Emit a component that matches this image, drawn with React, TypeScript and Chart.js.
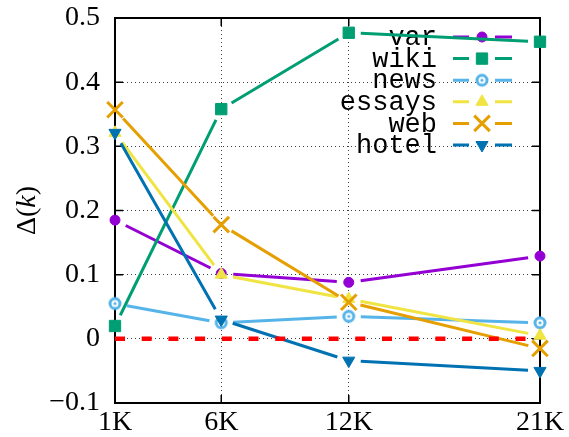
import React, { useEffect, useRef } from 'react';
import { Chart, registerables } from 'chart.js';

Chart.register(...registerables);

// ---- data ----
const xValues = [1, 6, 12, 21];
const xTickLabels = ['1K', '6K', '12K', '21K'];
const yTicks = [-0.1, 0, 0.1, 0.2, 0.3, 0.4, 0.5];
const yTickLabels = ['\u22120.1', '0', '0.1', '0.2', '0.3', '0.4', '0.5'];

const seriesNames = ['var', 'wiki', 'news', 'essays', 'web', 'hotel'];
const varValues = [0.185, 0.102, 0.088, 0.129];
const wikiValues = [0.02, 0.358, 0.477, 0.463];
const newsValues = [0.055, 0.025, 0.035, 0.025];
const essaysValues = [0.321, 0.1, 0.062, 0.005];
const webValues = [0.357, 0.178, 0.057, -0.015];
const hotelValues = [0.321, 0.03, -0.034, -0.05];
const baselineValues = [0, 0, 0, 0];

// ---- styles ----
const seriesColors = ['#9400d3', '#009e73', '#56b4e9', '#f0e442', '#e69f00', '#0072b2'];
const GAP = 12;
const SERIF = '"Liberation Serif", "Times New Roman", serif';
const MONO = '"Liberation Mono", "Courier New", monospace';

type Marker = { style: string; radius: number; borderWidth: number; rotation?: number; image?: HTMLCanvasElement };

function makeRing(color: string): HTMLCanvasElement {
  const c = document.createElement('canvas');
  c.width = 16;
  c.height = 16;
  const g = c.getContext('2d')!;
  g.beginPath();
  g.arc(8, 8, 5, 0, Math.PI * 2);
  g.fillStyle = '#fff';
  g.fill();
  g.lineWidth = 3;
  g.strokeStyle = color;
  g.stroke();
  g.beginPath();
  g.arc(8, 8, 1.6, 0, Math.PI * 2);
  g.fillStyle = color;
  g.fill();
  return c;
}

function drawMarker(ctx: CanvasRenderingContext2D, m: Marker, color: string, x: number, y: number) {
  ctx.save();
  ctx.fillStyle = color;
  ctx.strokeStyle = color;
  ctx.lineWidth = m.borderWidth;
  ctx.setLineDash([]);
  if (m.style === 'circle') {
    ctx.beginPath();
    ctx.arc(x, y, m.radius, 0, Math.PI * 2);
    ctx.fill();
    ctx.stroke();
  } else if (m.style === 'rect') {
    const s = m.radius * Math.SQRT1_2;
    ctx.beginPath();
    ctx.rect(x - s, y - s, 2 * s, 2 * s);
    ctx.fill();
    ctx.stroke();
  } else if (m.style === 'triangle') {
    const rot = ((m.rotation || 0) * Math.PI) / 180;
    ctx.beginPath();
    for (let k = 0; k < 3; k++) {
      const a = rot + (k * 2 * Math.PI) / 3;
      const px = x + Math.sin(a) * m.radius;
      const py = y - Math.cos(a) * m.radius;
      if (k === 0) ctx.moveTo(px, py);
      else ctx.lineTo(px, py);
    }
    ctx.closePath();
    ctx.fill();
    ctx.stroke();
  } else if (m.style === 'crossRot') {
    const o = Math.cos(Math.PI / 4) * m.radius;
    ctx.beginPath();
    ctx.moveTo(x - o, y - o);
    ctx.lineTo(x + o, y + o);
    ctx.moveTo(x + o, y - o);
    ctx.lineTo(x - o, y + o);
    ctx.stroke();
  } else if (m.style === 'image' && m.image) {
    ctx.drawImage(m.image, x - m.image.width / 2, y - m.image.height / 2);
  }
  ctx.restore();
}

export default function App() {
  const ref = useRef<HTMLCanvasElement>(null);

  useEffect(() => {
    document.body.style.margin = '0';
    const canvas = ref.current!;
    const ring = makeRing(seriesColors[2]);

    const markers: Marker[] = [
      { style: 'circle', radius: 5, borderWidth: 1 },
      { style: 'rect', radius: 8, borderWidth: 1 },
      { style: 'image', radius: 7, borderWidth: 1, image: ring },
      { style: 'triangle', radius: 7, borderWidth: 1 },
      { style: 'crossRot', radius: 11, borderWidth: 3 },
      { style: 'triangle', radius: 7, borderWidth: 1, rotation: 180 },
    ];
    const allValues = [varValues, wikiValues, newsValues, essaysValues, webValues, hotelValues];

    const datasets: any[] = allValues.map((vals, i) => ({
      label: seriesNames[i],
      data: xValues.map((x, j) => ({ x, y: vals[j] })),
      borderColor: seriesColors[i],
      backgroundColor: seriesColors[i],
      borderWidth: 3,
      showLine: false,
      gapLine: true,
      pointStyle: markers[i].style === 'image' ? markers[i].image : markers[i].style,
      pointRadius: markers[i].radius,
      pointBorderWidth: markers[i].borderWidth,
      pointRotation: markers[i].rotation || 0,
      pointBackgroundColor: seriesColors[i],
      pointBorderColor: seriesColors[i],
      tension: 0,
      clip: false,
      order: 6 - i,
    }));
    datasets.push({
      label: 'zero',
      data: xValues.map((x, j) => ({ x, y: baselineValues[j] })),
      borderColor: '#ff0000',
      borderWidth: 4.5,
      borderDash: [10, 16.7],
      pointRadius: 0,
      clip: false,
      order: 0,
    });

    // gnuplot-style linespoints: the connecting line stops short of each marker
    const gapLinePlugin = {
      id: 'gapLine',
      beforeDatasetDraw(chart: any, args: any) {
        const ds = chart.data.datasets[args.index];
        if (!ds.gapLine) return;
        const pts = args.meta.data;
        const ctx = chart.ctx;
        ctx.save();
        ctx.strokeStyle = ds.borderColor;
        ctx.lineWidth = ds.borderWidth;
        ctx.lineCap = 'butt';
        ctx.setLineDash([]);
        ctx.beginPath();
        for (let k = 0; k + 1 < pts.length; k++) {
          const p = pts[k];
          const q = pts[k + 1];
          const dx = q.x - p.x;
          const dy = q.y - p.y;
          const L = Math.hypot(dx, dy);
          if (L <= 2 * GAP) continue;
          const ux = dx / L;
          const uy = dy / L;
          ctx.moveTo(p.x + ux * GAP, p.y + uy * GAP);
          ctx.lineTo(q.x - ux * GAP, q.y - uy * GAP);
        }
        ctx.stroke();
        ctx.restore();
      },
    };

    const framePlugin = {
      id: 'frame',
      beforeDatasetsDraw(chart: any) {
        const { ctx, chartArea: a } = chart;
        const xs = chart.scales.x;
        const ys = chart.scales.y;
        ctx.save();
        ctx.strokeStyle = '#000';
        ctx.setLineDash([]);
        ctx.lineWidth = 1.5;
        ctx.beginPath();
        yTicks.slice(1, -1).forEach((v) => {
          const py = ys.getPixelForValue(v);
          ctx.moveTo(a.left, py);
          ctx.lineTo(a.left + 8, py);
          ctx.moveTo(a.right, py);
          ctx.lineTo(a.right - 8, py);
        });
        xValues.slice(1, -1).forEach((v) => {
          const px = xs.getPixelForValue(v);
          ctx.moveTo(px, a.bottom);
          ctx.lineTo(px, a.bottom - 8);
          ctx.moveTo(px, a.top);
          ctx.lineTo(px, a.top + 8);
        });
        ctx.stroke();
        ctx.lineWidth = 2;
        ctx.strokeRect(a.left, a.top, a.right - a.left, a.bottom - a.top);

        // legend (key)
        const textRight = 437;
        const lineL = 453;
        const lineR = 512;
        const mx = 482;
        ctx.font = `27px ${MONO}`;
        ctx.textAlign = 'right';
        ctx.textBaseline = 'middle';
        seriesNames.forEach((name, i) => {
          const y = 37 + i * 21.6;
          ctx.fillStyle = '#000';
          ctx.fillText(name, textRight, y + 1);
          ctx.strokeStyle = seriesColors[i];
          ctx.lineWidth = 3;
          ctx.beginPath();
          ctx.moveTo(lineL, y);
          ctx.lineTo(mx - 13, y);
          ctx.moveTo(mx + 13, y);
          ctx.lineTo(lineR, y);
          ctx.stroke();
          drawMarker(ctx, markers[i], seriesColors[i], mx, y);
        });

        // y axis title: Δ(k) with italic k
        const cy = (a.top + a.bottom) / 2;
        ctx.translate(28, cy);
        ctx.rotate(-Math.PI / 2);
        ctx.fillStyle = '#000';
        ctx.textAlign = 'left';
        ctx.textBaseline = 'middle';
        const parts: [string, string][] = [
          ['\u0394(', `28px ${SERIF}`],
          ['k', `italic 28px ${SERIF}`],
          [')', `28px ${SERIF}`],
        ];
        let total = 0;
        parts.forEach(([t, f]) => {
          ctx.font = f;
          total += ctx.measureText(t).width;
        });
        let px = -total / 2;
        parts.forEach(([t, f]) => {
          ctx.font = f;
          ctx.fillText(t, px, 0);
          px += ctx.measureText(t).width;
        });
        ctx.restore();
      },
    };

    const chart = new Chart(canvas, {
      type: 'line',
      data: { datasets },
      options: {
        animation: false,
        responsive: false,
        events: [],
        layout: { padding: { top: 18, right: 29, left: 0, bottom: 0 } },
        plugins: { legend: { display: false }, tooltip: { enabled: false } },
        scales: {
          x: {
            type: 'linear',
            min: 1,
            max: 21,
            afterBuildTicks: (s: any) => {
              s.ticks = xValues.map((v) => ({ value: v }));
            },
            afterFit: (s: any) => {
              s.height = 34;
              s.paddingLeft = 0;
              s.paddingRight = 0;
            },
            ticks: {
              autoSkip: false,
              maxRotation: 0,
              padding: 3,
              color: '#000',
              font: { family: SERIF, size: 28 },
              callback: (_v: any, i: number) => xTickLabels[i],
            },
            grid: { color: 'rgba(0,0,0,0.75)', lineWidth: 1, drawTicks: false },
            border: { display: false, dash: [1, 3] },
          },
          y: {
            type: 'linear',
            min: -0.1,
            max: 0.5,
            afterBuildTicks: (s: any) => {
              s.ticks = yTicks.map((v) => ({ value: v }));
            },
            afterFit: (s: any) => {
              s.width = 115;
              s.paddingTop = 0;
              s.paddingBottom = 0;
            },
            ticks: {
              autoSkip: false,
              padding: 15,
              color: '#000',
              font: { family: SERIF, size: 28 },
              callback: (_v: any, i: number) => yTickLabels[i],
            },
            grid: { color: 'rgba(0,0,0,0.75)', lineWidth: 1, drawTicks: false },
            border: { display: false, dash: [1, 3] },
          },
        },
      } as any,
      plugins: [framePlugin, gapLinePlugin],
    });

    return () => chart.destroy();
  }, []);

  return (
    <div style={{ width: 569, height: 437 }}>
      <canvas ref={ref} width={569} height={437} style={{ display: 'block' }} />
    </div>
  );
}
